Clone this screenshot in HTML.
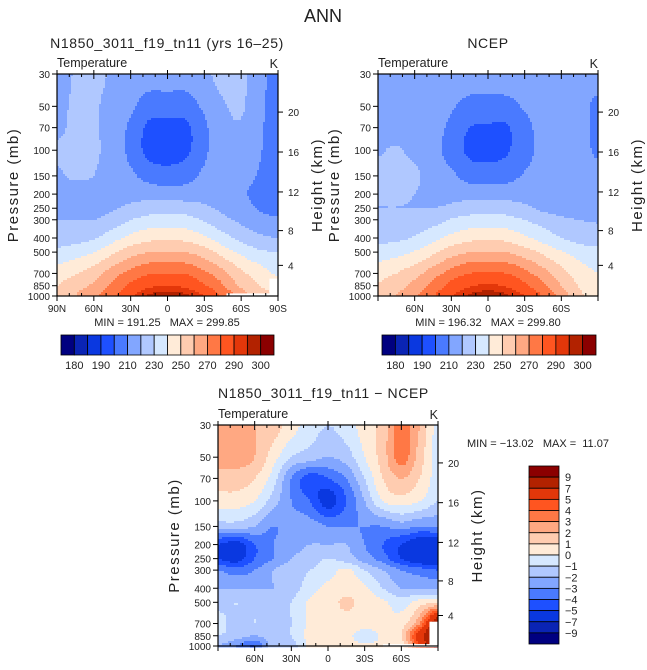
<!DOCTYPE html>
<html><head><meta charset="utf-8">
<style>
html,body{margin:0;padding:0;background:#fff;}
svg{display:block;font-family:"Liberation Sans",sans-serif;}
text{fill:#222;}
</style></head>
<body>
<svg id="fig" width="647" height="670" viewBox="0 0 647 670" xmlns="http://www.w3.org/2000/svg">
<text x="323" y="22" font-size="18" text-anchor="middle" fill="#333">ANN</text>
</svg>
<script>
const lats=[90,75,60,45,30,15,0,-15,-30,-45,-60,-75,-90];
const pres=[30,50,70,100,150,200,250,300,400,500,700,850,1000];
const tempLevels=[180,185,190,200,210,220,230,240,250,260,270,280,290,295,300];
const tempLabels=["180","190","210","230","250","270","290","300"];
const diffLevels=[-9,-7,-5,-4,-3,-2,-1,0,1,2,3,4,5,7,9];
const diffLabels=["9","7","5","4","3","2","1","0","\u22121","\u22122","\u22123","\u22124","\u22125","\u22127","\u22129"];
const pLabels=[30,50,70,100,150,200,250,300,400,500,700,850,1000];
const zLabels=[4,8,12,16,20];
const colors=["#000080","#0a24b4","#0a38e0","#1e50ff","#4a7aff","#82a6ff","#b0c8ff","#d6e8ff","#ffebd8","#ffccb0","#ffa882","#ff7845","#ff5520","#e3370a","#b22200","#8b0000"];
const modelT=[
[214,221,222,219,216,215,215,215,218,223,222,214,204],
[216,222,221,217,212,205,205,205,212,219,221,213,204],
[218,222,221,216,208,198,197,198,208,217,219,212,203],
[221,222,221,217,207,197,196,198,208,216,216,211,203],
[219,221,220,216,212,206,204,206,212,215,214,209,202],
[217,217,217,217,217,216,215,215,216,215,212,206,203],
[218,218,218,219,222,225,226,225,222,218,215,209,206],
[220,220,220,224,230,234,235,234,229,223,218,214,212],
[225,226,229,236,243,247,248,247,242,234,227,222,220],
[233,236,240,248,256,260,261,260,255,246,238,232,230],
[245,249,255,265,273,279,280,279,272,263,252,245,238],
[250,256,262,272,282,288,290,288,281,271,258,250,245],
[255,260,268,278,288,296,298,296,290,278,266,255,250]];
const ncepT=[
[215,217,216,215,215,215,215,215,215,215,216,215,214],
[214,215,215,214,211,207,206,207,211,214,215,213,208],
[215,215,215,213,208,200,199,199,207,213,214,213,208],
[219,221,217,213,206,198,197,199,206,213,214,214,208],
[222,223,222,215,212,206,205,206,211,214,215,215,214],
[221,222,220,217,217,216,216,216,216,214,213,213,213],
[220,220,220,220,222,225,226,225,222,218,216,215,215],
[222,223,224,226,231,234,235,234,230,226,222,220,219],
[227,228,231,237,243,247,248,247,242,236,230,226,225],
[235,237,241,248,256,260,261,260,255,248,241,236,233],
[246,250,256,265,274,280,281,280,273,264,254,245,240],
[251,256,263,273,283,289,291,289,282,272,260,249,244],
[255,260,268,279,289,296,298,296,290,279,266,252,247]];
const diffT=[
[2.5,2.5,2,1.5,0.5,-0.5,-1,-0.5,0.5,1.5,3.5,2,-0.5],
[2.5,2.5,2,0.5,-1,-1.5,-2,-1.5,0,1.5,3.5,1.5,-0.5],
[1.5,1.5,1,-0.5,-3,-4.5,-4,-3,-1,1,2,1,-0.5],
[0.5,0.5,0,-1.5,-3,-4,-5.5,-4,-2,0,0.5,0,-1],
[-1.5,-1.5,-2,-3,-2.5,-2.5,-3,-3,-3,-3,-2.5,-3,-3],
[-5,-5.5,-4,-3,-2.5,-2,-2,-2,-3,-4,-5,-6,-6],
[-5,-5.5,-4,-3,-2,-1.5,-1,-1.5,-2.5,-3.5,-5,-6,-6],
[-3,-3.5,-3,-2,-1.5,-1,-0.5,0.2,-1,-2,-3,-3.5,-4],
[-2,-2,-2,-2,-1.5,-0.5,0.3,0.5,0.2,-1,-2,-2,-2],
[-1.5,-1,-1.5,-1.5,-1,0.2,0.5,1.2,0.5,0.2,-0.5,0.5,1],
[-0.5,-1.5,-1,-1.5,-1,0.2,0.5,0.5,0.5,0.3,0.5,3,9],
[-1,-1.5,-2,-1.5,-1,0.3,0.5,0.3,-0.5,0.2,1,6,10],
[-2,-3,-4,-1.5,-1.5,0.2,0.3,0.3,0.2,0.2,0.5,5,10]];

const NS="http://www.w3.org/2000/svg";
const svg=document.getElementById('fig');
function mk(tag,attrs,parent,txt){const e=document.createElementNS(NS,tag);for(const k in attrs)e.setAttribute(k,attrs[k]);if(txt!==undefined)e.textContent=txt;(parent||svg).appendChild(e);return e;}
function zToP(z){const m=z*1000;if(m<=11000)return 1013.25*Math.pow(1-2.25577e-5*m,5.25588);return 226.32*Math.exp(-(m-11000)/6341.6);}
function colorIdx(v,lv){let i=0;while(i<lv.length&&v>=lv[i])i++;return i;}
function cr(p0,p1,p2,p3,t){return 0.5*((2*p1)+(-p0+p2)*t+(2*p0-5*p1+4*p2-p3)*t*t+(-p0+3*p1-3*p2+p3)*t*t*t);}
function rowVal(row,f){let c=Math.min(11,Math.floor(f));let u=f-c;const g=i=>row[Math.max(0,Math.min(12,i))];return cr(g(c-1),g(c),g(c+1),g(c+2),u);}
function interp(grid,lat,p){
  let f=(90-lat)/15;f=Math.max(0,Math.min(12,f));
  let r=0;while(r<11&&p>pres[r+1])r++;
  let t=(Math.log(p)-Math.log(pres[r]))/(Math.log(pres[r+1])-Math.log(pres[r]));t=Math.max(0,Math.min(1,t));
  const v=i=>rowVal(grid[Math.max(0,Math.min(12,i))],f);
  return cr(v(r-1),v(r),v(r+1),v(r+2),t);
}
function panel(cfg){
  const g=mk('g',{},svg);
  
  
  const L=cfg.x,T=cfg.y,W=cfg.w,H=cfg.h;
  const xOf=lat=>L+(90-lat)/180*W;
  const yOf=p=>T+Math.log(p/30)/Math.log(1000/30)*H;
  const fg=mk('g',{},g);
  
  
  const s=2;
  function flush(x0,x1,y,ci){
    const r=mk('rect',{x:x0,y:y,width:x1-x0+0.5,height:s+0.5,fill:colors[ci]},fg);
    
    
  }
  for(let y=T;y<T+H;y+=s){
    const p=30*Math.exp((y+s/2-T)/H*Math.log(1000/30));
    let runStart=L,runC=-1;
    for(let x=L;x<L+W;x+=s){
      const lat=90-(x+s/2-L)/W*180;
      const ci=colorIdx(interp(cfg.grid,lat,p),cfg.levels);
      if(ci!==runC){
        if(runC>=0)flush(runStart,x,y,runC);
        runStart=x;runC=ci;
      }
    }
    if(runC>=0)flush(runStart,L+W,y,runC);
  }
  if(cfg.masks)cfg.masks.forEach(m=>{const r=mk('rect',{x:xOf(m[0]),y:yOf(m[2]),width:xOf(m[1])-xOf(m[0]),height:yOf(m[3])-yOf(m[2])+1,fill:'#fff'},g);});
  const fr=mk('rect',{x:L,y:T,width:W,height:H,fill:'none',stroke:'#000','stroke-width':1.2},g);
  
  pLabels.forEach(p=>{const y=yOf(p);mk('line',{x1:L-5,x2:L,y1:y,y2:y,stroke:'#000'},g);
    const t=mk('text',{x:L-7,y:y+4,'font-size':10,'text-anchor':'end'},g,String(p));});
  zLabels.forEach(z=>{const y=yOf(zToP(z));mk('line',{x1:L+W,x2:L+W+5,y1:y,y2:y,stroke:'#000'},g);
    const t=mk('text',{x:L+W+10,y:y+4,'font-size':10},g,String(z));});
  for(let lat=90;lat>=-90;lat-=10){const x=xOf(lat);const major=lat%30===0;
    mk('line',{x1:x,x2:x,y1:T,y2:T+(major?5:3),stroke:'#000'},g);
    if(major){mk('line',{x1:x,x2:x,y1:T+H,y2:T+H+5,stroke:'#000'},g);mk('line',{x1:x,x2:x,y1:T-4,y2:T,stroke:'#000'},g);}
    else mk('line',{x1:x,x2:x,y1:T+H-3,y2:T+H,stroke:'#000'},g);
    if(major&&(cfg.full||Math.abs(lat)<90)){const lab=lat===0?'0':Math.abs(lat)+(lat>0?'N':'S');
      const t=mk('text',{x:x,y:T+H+16,'font-size':10,'text-anchor':'middle'},g,lab);}}
  const cy=T+H/2;
  let t=mk('text',{x:0,y:0,'font-size':15,'letter-spacing':1.5,'text-anchor':'middle',transform:`translate(${L-39},${cy}) rotate(-90)`,fill:'#333'},g,'Pressure (mb)');
  t=mk('text',{x:0,y:0,'font-size':15,'letter-spacing':1.5,'text-anchor':'middle',transform:`translate(${L+W+44},${cy}) rotate(-90)`,fill:'#333'},g,'Height (km)');
  t=mk('text',{x:L,y:T-7,'font-size':12.5,fill:'#333'},g,'Temperature');
  t=mk('text',{x:L+W,y:T-6,'font-size':12.5,'text-anchor':'end',fill:'#333'},g,'K');
  t=mk('text',{x:cfg.tx,y:cfg.ty,'font-size':14,'letter-spacing':0.6,'text-anchor':cfg.ta,fill:'#333'},g,cfg.title);
  t=mk('text',{x:cfg.mx,y:cfg.my,'font-size':11,'text-anchor':cfg.ma},g,cfg.minmax);t.style.whiteSpace='pre';
}
function hbar(x0,x1,y0,y1,name){
  const g=mk('g',{},svg);
  const n=colors.length,bw=(x1-x0)/n;
  for(let i=0;i<n;i++){const r=mk('rect',{x:x0+i*bw,y:y0,width:bw,height:y1-y0,fill:colors[i],stroke:'#000','stroke-width':0.8},g);}
  tempLabels.forEach((l,k)=>{const t=mk('text',{x:x0+(2*k+1)*bw,y:y1+14,'font-size':11,'text-anchor':'middle'},g,l);});
}
panel({name:'model-panel',grid:modelT,levels:tempLevels,x:57,y:74,w:221,h:222,full:true,title:'N1850_3011_f19_tn11 (yrs 16\u201325)',tx:167,ty:48,ta:'middle',minmax:'MIN = 191.25   MAX = 299.85',mx:167,my:326,ma:'middle',masks:[[-48,-90,960,1000],[-83,-90,760,1000]]});
panel({name:'ncep-panel',grid:ncepT,levels:tempLevels,x:378,y:74,w:220,h:222,full:false,title:'NCEP',tx:488,ty:48,ta:'middle',minmax:'MIN = 196.32   MAX = 299.80',mx:488,my:326,ma:'middle'});
panel({name:'difference-panel',grid:diffT,levels:diffLevels,x:218,y:425,w:220,h:221,full:false,title:'N1850_3011_f19_tn11 \u2212 NCEP',tx:218,ty:398,ta:'start',minmax:'MIN = \u221213.02   MAX =  11.07',mx:467,my:447,ma:'start',masks:[[-45,-90,970,1000],[-83,-90,680,1000]]});
hbar(61,274,335,355,'model-colorbar');
hbar(382,596,335,355,'ncep-colorbar');
(function(){
  const g=mk('g',{},svg);
  const n=colors.length,y0=466,y1=644,bh=(y1-y0)/n;
  for(let i=0;i<n;i++){const r=mk('rect',{x:529,y:y0+i*bh,width:30,height:bh,fill:colors[n-1-i],stroke:'#000','stroke-width':0.8},g);}
  diffLabels.forEach((l,k)=>{const t=mk('text',{x:565,y:y0+(k+1)*bh+4,'font-size':11},g,l);});
})();
</script>
</body></html>
